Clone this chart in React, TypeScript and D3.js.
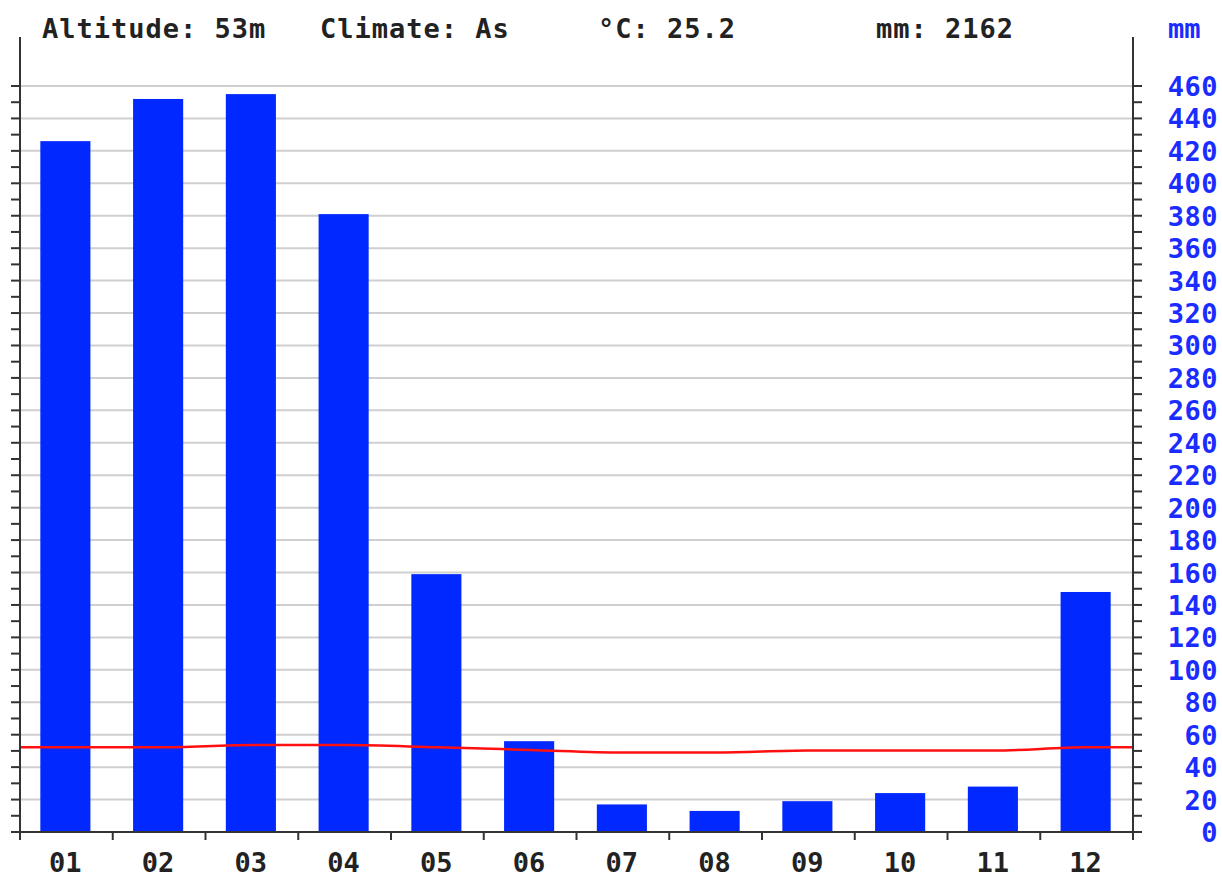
import React from 'react';
import * as d3 from 'd3';

// monthly data
const months = ['01', '02', '03', '04', '05', '06', '07', '08', '09', '10', '11', '12'];
const precipitation = [426, 452, 455, 381, 159, 56, 17, 13, 19, 24, 28, 148];
const temperature = [26.1, 26.1, 26.8, 26.8, 26.1, 25.3, 24.5, 24.5, 25.1, 25.1, 25.1, 26.1];
const mmTicks = d3.range(0, 461, 20);
const headerItems = [
  { label: 'Altitude: 53m', x: 42 },
  { label: 'Climate: As', x: 320 },
  { label: '°C: 25.2', x: 598 },
  { label: 'mm: 2162', x: 876 },
];

const W = 1222;
const H = 877;
const left = 20;
const right = 1133;
const bottom = 832;
const top = 37;
const font = '"DejaVu Sans Mono", monospace';

export default function App() {
  const x = d3.scaleBand<string>()
    .domain(months)
    .range([left, right])
    .paddingInner(0.46)
    .paddingOuter(0.23);
  const step = (right - left) / months.length;

  const y = d3.scaleLinear().domain([0, 460]).range([bottom, 86]);
  // temperature drawn at 2 mm per °C
  const yT = d3.scaleLinear().domain([0, 230]).range([bottom, 86]);

  const pts: [number, number][] = [
    [left, yT(temperature[0])],
    ...temperature.map((t, i) => [x(months[i])! + x.bandwidth() / 2, yT(t)] as [number, number]),
    [right, yT(temperature[temperature.length - 1])],
  ];
  const line = d3.line().curve(d3.curveMonotoneX)(pts) || '';

  const minor = d3.range(0, 461, 10);

  return (
    <svg width={W} height={H} style={{ position: 'absolute', left: 0, top: 0, background: '#fff' }}>
      {/* grid */}
      {mmTicks.filter(v => v > 0).map(v => (
        <line key={'g' + v} x1={left} x2={right} y1={y(v)} y2={y(v)} stroke="#cfcfcf" strokeWidth={2} />
      ))}

      {/* bars */}
      {precipitation.map((v, i) => (
        <rect key={'b' + i} x={x(months[i])! - 1} y={y(v)} width={x.bandwidth()} height={bottom - y(v)} fill="#0028ff" />
      ))}

      {/* temperature line */}
      <path d={line} fill="none" stroke="#ff1010" strokeWidth={2.5} />

      {/* axes */}
      <line x1={left} x2={left} y1={top} y2={bottom + 8} stroke="#333" strokeWidth={2} />
      <line x1={right} x2={right} y1={top} y2={bottom + 8} stroke="#333" strokeWidth={2} />
      <line x1={left - 8} x2={right + 8} y1={bottom} y2={bottom} stroke="#333" strokeWidth={2} />
      {minor.map(v => (
        <g key={'t' + v}>
          <line x1={left - 9} x2={left} y1={y(v)} y2={y(v)} stroke="#333" strokeWidth={2} />
          <line x1={right} x2={right + 9} y1={y(v)} y2={y(v)} stroke="#333" strokeWidth={2} />
        </g>
      ))}
      {d3.range(0, months.length + 1).map(k => (
        <line key={'xt' + k} x1={left + k * step} x2={left + k * step} y1={bottom} y2={bottom + 8} stroke="#333" strokeWidth={2} />
      ))}

      {/* month labels */}
      {months.map(m => (
        <text key={'m' + m} x={x(m)! + x.bandwidth() / 2 - 1} y={872} textAnchor="middle"
          fontFamily={font} fontWeight="bold" fontSize={27} fill="#222">{m}</text>
      ))}

      {/* right axis labels */}
      {mmTicks.map(v => (
        <text key={'l' + v} x={1218} y={y(v) + 10} textAnchor="end" letterSpacing={0.5}
          fontFamily={font} fontWeight="bold" fontSize={27} fill="#1a2cff">{v}</text>
      ))}
      <text x={1168} y={38} fontFamily={font} fontWeight="bold" fontSize={27} fill="#1a2cff">mm</text>

      {/* header */}
      {headerItems.map(h => (
        <text key={h.label} x={h.x} y={38} letterSpacing={1} fontFamily={font} fontWeight="bold" fontSize={27} fill="#222">{h.label}</text>
      ))}
    </svg>
  );
}
